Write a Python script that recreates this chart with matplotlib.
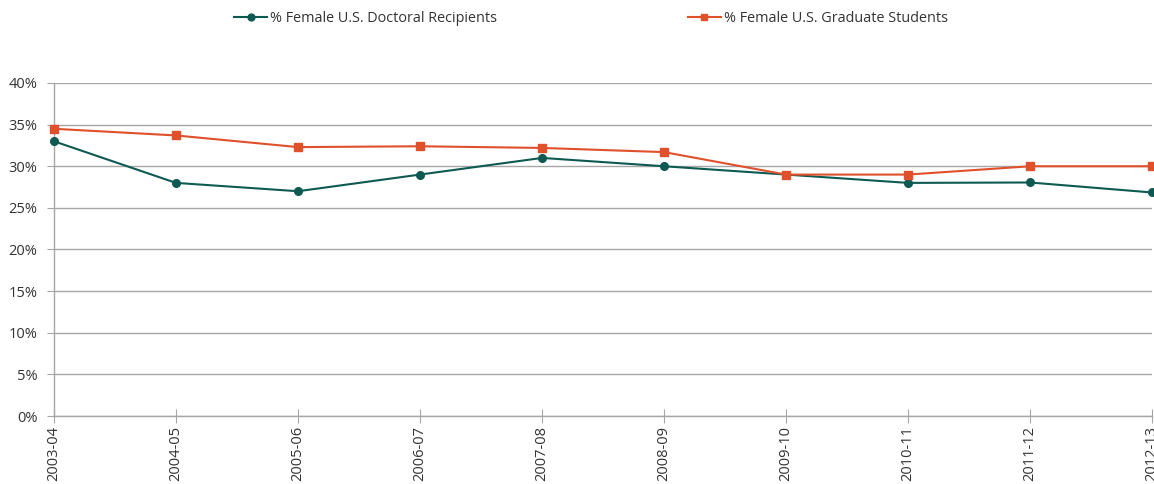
import matplotlib
matplotlib.use("Agg")
import matplotlib.pyplot as plt
from matplotlib.ticker import FuncFormatter

years = ["2003-04", "2004-05", "2005-06", "2006-07", "2007-08",
         "2008-09", "2009-10", "2010-11", "2011-12", "2012-13"]
doctoral = [33.0, 28.0, 27.0, 29.0, 31.0, 30.0, 29.0, 28.0, 28.05, 26.85]
graduate = [34.5, 33.7, 32.3, 32.4, 32.2, 31.7, 29.0, 29.0, 30.0, 30.0]
yticks = [0, 5, 10, 15, 20, 25, 30, 35, 40]

plt.rcParams['font.family'] = ['Open Sans', 'DejaVu Sans']

W, H = 1154, 484
fig = plt.figure(figsize=(W / 100, H / 100), dpi=100)
ax = fig.add_axes([54 / W, 1 - 416 / H, (1152 - 54) / W, (416 - 83) / H])

x = list(range(len(years)))
teal = "#0e5a52"
red = "#e0502a"
ax.plot(x, doctoral, color=teal, marker="o", markersize=5.5, linewidth=1.5,
        label="% Female U.S. Doctoral Recipients", zorder=3, clip_on=False)
ax.plot(x, graduate, color=red, marker="s", markersize=5.5, linewidth=1.5,
        label="% Female U.S. Graduate Students", zorder=3, clip_on=False)

ax.set_xlim(0, len(years) - 1)
ax.set_ylim(0, 40)
ax.set_yticks(yticks)
ax.yaxis.set_major_formatter(FuncFormatter(lambda v, p: f"{int(v)}%"))
ax.set_xticks(x)
ax.set_xticklabels(years, rotation=90, va="top", ha="center")

grid_c = "#a6a6a6"
ax.grid(axis="y", color=grid_c, linewidth=1)
ax.set_axisbelow(True)
for s in ["top", "right"]:
    ax.spines[s].set_visible(False)
for s in ["left", "bottom"]:
    ax.spines[s].set_color(grid_c)
    ax.spines[s].set_linewidth(1)
ax.tick_params(axis="y", length=5, color=grid_c, labelsize=10.5, labelcolor="#333333", pad=7)
ax.tick_params(axis="x", direction="inout", length=10, color=grid_c, labelsize=10.5,
               labelcolor="#333333", pad=2)

fig.legend(loc="upper center", bbox_to_anchor=(0.512, 1.005), ncol=2, frameon=False,
           fontsize=10.4, columnspacing=13.2, handlelength=2.3, handletextpad=0.2,
           labelcolor="#333333", markerscale=0.9)

fig.savefig("out.png", dpi=100)
